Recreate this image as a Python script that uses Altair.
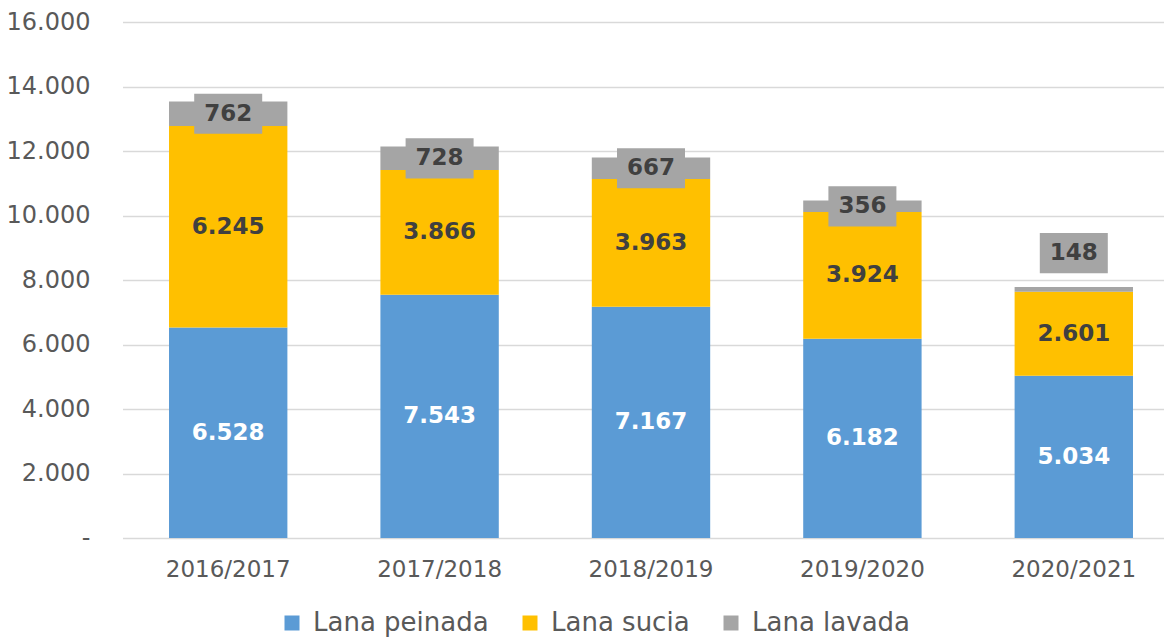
import altair as alt
import pandas as pd

years = ["2016/2017", "2017/2018", "2018/2019", "2019/2020", "2020/2021"]
series = ["Lana peinada", "Lana sucia", "Lana lavada"]
colors = ["#5B9BD5", "#FFC000", "#A5A5A5"]
peinada = [6528, 7543, 7167, 6182, 5034]
sucia = [6245, 3866, 3963, 3924, 2601]
lavada = [762, 728, 667, 356, 148]
y_ticks = [0, 2000, 4000, 6000, 8000, 10000, 12000, 14000, 16000]

rows = []
for i, y in enumerate(years):
    for k, (name, vals) in enumerate(zip(series, [peinada, sucia, lavada])):
        rows.append({"year": y, "series": name, "idx": k, "value": vals[i]})
df = pd.DataFrame(rows)

FONT = "DejaVu Sans"

base = alt.Chart(df).transform_stack(
    stack="value", groupby=["year"], as_=["y0", "y1"],
    sort=[alt.SortField(field="idx", order="ascending")]
).transform_calculate(
    label="replace(format(datum.value, ','), ',', '.')",
    pos="datum.value < 300 ? datum.y1 + 1050 : (datum.y0 + datum.y1) / 2",
)

x_scale = alt.Scale(paddingInner=0.44, paddingOuter=0.22, range=[1.5, 1058.5])

x_enc = alt.X("year:N", sort=years, title=None, scale=x_scale,
              axis=alt.Axis(labelAngle=0, domain=False, ticks=False, labelPadding=20,
                            labelFontSize=23, labelColor="#595959", labelFont=FONT))

bars = base.mark_bar().encode(
    x=x_enc,
    y=alt.Y("y0:Q", title=None,
            scale=alt.Scale(domain=[0, 16000], nice=False),
            axis=alt.Axis(values=y_ticks, domain=False, ticks=False, labelPadding=31,
                          labelFontSize=24, labelColor="#595959", labelFont=FONT,
                          gridColor="#D9D9D9", gridWidth=1.5,
                          labelExpr="datum.value == 0 ? '-' : replace(format(datum.value, ','), ',', '.')")),
    y2="y1:Q",
    color=alt.Color("series:N", title=None,
                    scale=alt.Scale(domain=series, range=colors),
                    legend=alt.Legend(orient="none", legendX=158, legendY=588,
                                      direction="horizontal", symbolType="square",
                                      symbolSize=225, symbolStrokeWidth=0, labelFontSize=26,
                                      labelLimit=400,
                                      labelColor="#595959", labelFont=FONT, columnPadding=28,
                                      labelOffset=8)),
    order=alt.Order("idx:Q"),
)

boxes = base.transform_filter(alt.datum.series == "Lana lavada").mark_point(
    shape="M-1,-0.59L1,-0.59L1,0.59L-1,0.59Z", filled=True, opacity=1,
    color="#A5A5A5", size=68 * 68, strokeWidth=0,
).encode(x=alt.X("year:N", sort=years, scale=x_scale), y="pos:Q")

texts = base.mark_text(font=FONT, fontSize=23, fontWeight="bold", baseline="middle").encode(
    x=alt.X("year:N", sort=years, scale=x_scale),
    y="pos:Q",
    text="label:N",
    color=alt.condition(alt.datum.series == "Lana peinada", alt.value("#FFFFFF"), alt.value("#404040")),
)

chart = alt.layer(bars, boxes, texts).properties(
    width=1043, height=516,
    autosize=alt.AutoSizeParams(type="none"),
    padding={"left": 113, "top": 14, "right": 0, "bottom": 102},
).configure_view(stroke=None)

chart.save("out.html", embed_options={"renderer": "svg", "actions": False})
